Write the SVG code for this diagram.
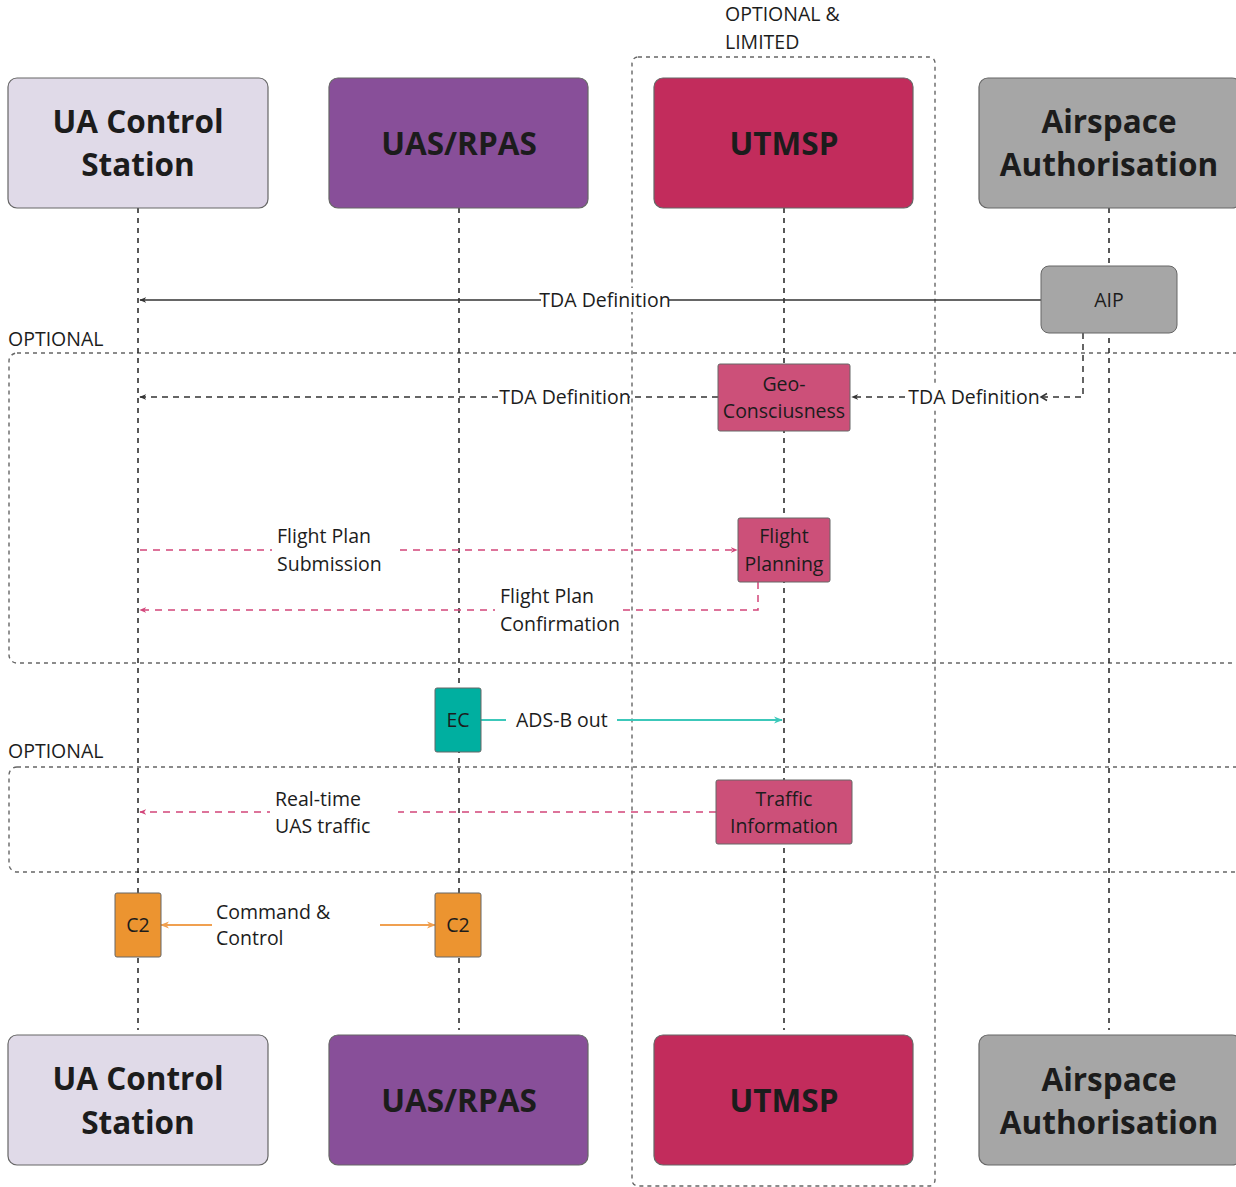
<svg xmlns="http://www.w3.org/2000/svg" width="1236" height="1187" viewBox="0 0 1236 1187">
  <style>
    .head { font-family: "Open Sans", "Noto Sans", sans-serif; font-weight: 700; font-size: 31.5px; fill: #1c1c1c; text-anchor: middle; }
    .lbl { font-family: "Open Sans", "Noto Sans", sans-serif; font-size: 19.5px; fill: #1c1c1c; }
    .mid { text-anchor: middle; }
    .big { stroke: #666; stroke-width: 1.2; }
    .life { stroke: #222; stroke-width: 1.5; stroke-dasharray: 5 5; fill: none; }
    .frame { stroke: #666; stroke-width: 1.4; stroke-dasharray: 4 4; fill: none; }
    .dark { stroke: #333; stroke-width: 1.5; fill: none; }
    .darkdash { stroke: #333; stroke-width: 1.5; fill: none; stroke-dasharray: 6 5; }
    .pink { stroke: #d2457a; stroke-width: 1.5; fill: none; stroke-dasharray: 7 6; }
    .teal { stroke: #3cc8ba; stroke-width: 2; fill: none; }
    .orange { stroke: #f0a050; stroke-width: 2; fill: none; }
    .small { stroke: #666; stroke-width: 1; }
  </style>
  <defs>
    <marker id="arrDark" viewBox="0 0 10 10" refX="9" refY="5" markerWidth="7" markerHeight="7" orient="auto-start-reverse" markerUnits="userSpaceOnUse">
      <path d="M0,1 L10,5 L0,9 L3,5 Z" fill="#333"/>
    </marker>
    <marker id="arrPink" viewBox="0 0 10 10" refX="9" refY="5" markerWidth="7" markerHeight="7" orient="auto-start-reverse" markerUnits="userSpaceOnUse">
      <path d="M0,1 L10,5 L0,9 L3,5 Z" fill="#d2457a"/>
    </marker>
    <marker id="arrTeal" viewBox="0 0 10 10" refX="9" refY="5" markerWidth="9" markerHeight="9" orient="auto-start-reverse" markerUnits="userSpaceOnUse">
      <path d="M0,1 L10,5 L0,9 L3,5 Z" fill="#3cc8ba"/>
    </marker>
    <marker id="arrOrange" viewBox="0 0 10 10" refX="9" refY="5" markerWidth="9" markerHeight="9" orient="auto-start-reverse" markerUnits="userSpaceOnUse">
      <path d="M0,1 L10,5 L0,9 L3,5 Z" fill="#f0a050"/>
    </marker>
  </defs>

  <rect width="1236" height="1187" fill="#ffffff"/>

  <!-- grouping frames -->
  <g id="frames">
    <rect class="frame" x="632" y="57" width="303" height="1129" rx="6"/>
    <text class="lbl" x="725" y="21">OPTIONAL &amp;</text>
    <text class="lbl" x="725" y="49">LIMITED</text>
    <rect class="frame" x="9" y="353" width="1240" height="310" rx="8"/>
    <text class="lbl" x="8" y="346">OPTIONAL</text>
    <rect class="frame" x="9" y="767" width="1240" height="105" rx="8"/>
    <text class="lbl" x="8" y="758">OPTIONAL</text>
  </g>

  <!-- lifelines -->
  <g id="lifelines">
    <line class="life" x1="138" y1="208" x2="138" y2="1030"/>
    <line class="life" x1="459" y1="208" x2="459" y2="1030"/>
    <line class="life" x1="784" y1="208" x2="784" y2="1030"/>
    <line class="life" x1="1109" y1="208" x2="1109" y2="1030"/>
  </g>

  <!-- connectors -->
  <g id="connectors">
    <!-- AIP to control station -->
    <line class="dark" x1="1041" y1="300" x2="140" y2="300" marker-end="url(#arrDark)"/>
    <rect x="541" y="288" width="128" height="24" fill="#ffffff"/>
    <text class="lbl mid" x="605" y="307">TDA Definition</text>

    <!-- AIP to Geo-Consciusness -->
    <polyline class="darkdash" points="1083,333 1083,397 852,397" marker-end="url(#arrDark)"/>
    <rect x="910" y="385" width="128" height="24" fill="#ffffff"/>
    <text class="lbl mid" x="974" y="404">TDA Definition</text>
    <path d="M1047,393.5 L1041,397 L1047,400.5" fill="none" stroke="#333" stroke-width="1.5"/>

    <!-- Geo-Consciusness to control station -->
    <line class="darkdash" x1="718" y1="397" x2="140" y2="397" marker-end="url(#arrDark)"/>
    <rect x="501" y="385" width="128" height="24" fill="#ffffff"/>
    <text class="lbl mid" x="565" y="404">TDA Definition</text>

    <!-- flight plan submission -->
    <line class="pink" x1="140" y1="550" x2="737" y2="550" marker-end="url(#arrPink)"/>
    <rect x="272" y="523" width="122" height="55" fill="#ffffff"/>
    <text class="lbl" x="277" y="543">Flight Plan</text>
    <text class="lbl" x="277" y="571">Submission</text>

    <!-- flight plan confirmation -->
    <polyline class="pink" points="758,582 758,610 140,610" marker-end="url(#arrPink)"/>
    <rect x="495" y="583" width="127" height="55" fill="#ffffff"/>
    <text class="lbl" x="500" y="603">Flight Plan</text>
    <text class="lbl" x="500" y="631">Confirmation</text>

    <!-- ADS-B out -->
    <line class="teal" x1="481" y1="720" x2="782" y2="720" marker-end="url(#arrTeal)"/>
    <rect x="506" y="706" width="111" height="28" fill="#ffffff"/>
    <text class="lbl" x="516" y="727">ADS-B out</text>

    <!-- real-time traffic -->
    <line class="pink" x1="716" y1="812" x2="140" y2="812" marker-end="url(#arrPink)"/>
    <rect x="270" y="785" width="128" height="55" fill="#ffffff"/>
    <text class="lbl" x="275" y="806">Real-time</text>
    <text class="lbl" x="275" y="833">UAS traffic</text>

    <!-- command & control -->
    <line class="orange" x1="161" y1="925" x2="435" y2="925" marker-start="url(#arrOrange)" marker-end="url(#arrOrange)"/>
    <rect x="212" y="898" width="168" height="55" fill="#ffffff"/>
    <text class="lbl" x="216" y="919">Command &amp;</text>
    <text class="lbl" x="216" y="945">Control</text>
  </g>

  <!-- participants, top row -->
  <g id="ua-control-station-top">
    <rect class="big" x="8" y="78" width="260" height="130" rx="9" fill="#e0dae8"/>
    <text class="head" x="138" y="133">UA Control</text>
    <text class="head" x="138" y="176">Station</text>
  </g>
  <g id="uas-rpas-top">
    <rect class="big" x="329" y="78" width="259" height="130" rx="9" fill="#884f99"/>
    <text class="head" x="459" y="155">UAS/RPAS</text>
  </g>
  <g id="utmsp-top">
    <rect class="big" x="654" y="78" width="259" height="130" rx="9" fill="#c22c5c"/>
    <text class="head" x="784" y="155">UTMSP</text>
  </g>
  <g id="airspace-authorisation-top">
    <rect class="big" x="979" y="78" width="262" height="130" rx="9" fill="#a6a6a6"/>
    <text class="head" x="1109" y="133">Airspace</text>
    <text class="head" x="1109" y="176">Authorisation</text>
  </g>

  <!-- activation boxes -->
  <g id="aip">
    <rect class="small" x="1041" y="266" width="136" height="67" rx="8" fill="#a6a6a6"/>
    <text class="lbl mid" x="1109" y="307">AIP</text>
  </g>
  <g id="geo-consciusness">
    <rect class="small" x="718" y="364" width="132" height="67" rx="2" fill="#cc5079"/>
    <text class="lbl mid" x="784" y="391">Geo-</text>
    <text class="lbl mid" x="784" y="418">Consciusness</text>
  </g>
  <g id="flight-planning">
    <rect class="small" x="738" y="518" width="92" height="64" rx="2" fill="#cc5079"/>
    <text class="lbl mid" x="784" y="543">Flight</text>
    <text class="lbl mid" x="784" y="571">Planning</text>
  </g>
  <g id="ec">
    <rect class="small" x="435" y="688" width="46" height="64" rx="2" fill="#00afa0"/>
    <text class="lbl mid" x="458" y="727">EC</text>
  </g>
  <g id="traffic-information">
    <rect class="small" x="716" y="780" width="136" height="64" rx="2" fill="#cc5079"/>
    <text class="lbl mid" x="784" y="806">Traffic</text>
    <text class="lbl mid" x="784" y="833">Information</text>
  </g>
  <g id="c2-station">
    <rect class="small" x="115" y="893" width="46" height="64" rx="2" fill="#ec9430"/>
    <text class="lbl mid" x="138" y="932">C2</text>
  </g>
  <g id="c2-aircraft">
    <rect class="small" x="435" y="893" width="46" height="64" rx="2" fill="#ec9430"/>
    <text class="lbl mid" x="458" y="932">C2</text>
  </g>

  <!-- participants, bottom row -->
  <g id="ua-control-station-bottom">
    <rect class="big" x="8" y="1035" width="260" height="130" rx="9" fill="#e0dae8"/>
    <text class="head" x="138" y="1090">UA Control</text>
    <text class="head" x="138" y="1134">Station</text>
  </g>
  <g id="uas-rpas-bottom">
    <rect class="big" x="329" y="1035" width="259" height="130" rx="9" fill="#884f99"/>
    <text class="head" x="459" y="1112">UAS/RPAS</text>
  </g>
  <g id="utmsp-bottom">
    <rect class="big" x="654" y="1035" width="259" height="130" rx="9" fill="#c22c5c"/>
    <text class="head" x="784" y="1112">UTMSP</text>
  </g>
  <g id="airspace-authorisation-bottom">
    <rect class="big" x="979" y="1035" width="262" height="130" rx="9" fill="#a6a6a6"/>
    <text class="head" x="1109" y="1091">Airspace</text>
    <text class="head" x="1109" y="1134">Authorisation</text>
  </g>
</svg>
